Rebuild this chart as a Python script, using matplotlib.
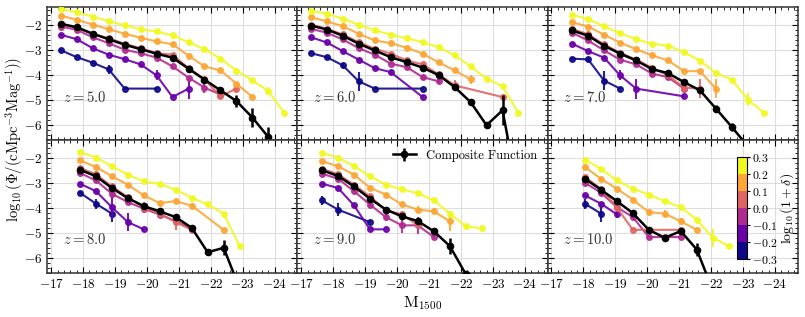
import numpy as np
import matplotlib
matplotlib.use('Agg')
import matplotlib.pyplot as plt
from matplotlib.colors import ListedColormap, BoundaryNorm
from matplotlib.cm import ScalarMappable

plt.rcParams['font.family'] = 'serif'
plt.rcParams['font.serif'] = ['cmr10']
plt.rcParams['mathtext.fontset'] = 'cm'
plt.rcParams['axes.formatter.use_mathtext'] = True
plt.rcParams['axes.unicode_minus'] = True

# overdensity bins (log10(1+delta)) -> one colour each
delta_bins = [-0.25, -0.15, -0.05, 0.05, 0.15, 0.25]
delta_edges = [-0.3, -0.2, -0.1, 0.0, 0.1, 0.2, 0.3]
redshifts = [5.0, 6.0, 7.0, 8.0, 9.0, 10.0]

# ---- z = 5 ----
mag_z5 = [-17.3, -17.8, -18.3, -18.8, -19.3, -19.8, -20.3, -20.8, -21.3, -21.8, -22.3, -22.8, -23.3, -23.8, -24.3]
lf_z5 = [
    [-3.01, -3.29, -3.51, -3.78, -4.55, None, -4.55],
    [-2.39, -2.57, -2.93, -3.19, -3.37, -3.58, -4.02, -4.89, -4.55],
    [-2.06, -2.19, -2.49, -2.73, -2.99, -3.13, -3.31, -3.66, -4.11, -4.51, -4.79],
    [-1.98, -2.11, -2.35, -2.53, -2.75, -2.93, -3.13, -3.19, -3.73, -4.18, -4.86, -4.55],
    [-1.62, -1.79, -1.98, -2.17, -2.35, -2.51, -2.66, -2.77, -3.23, -3.66, -3.82, -4.35, -4.89],
    [-1.35, -1.49, -1.66, -1.85, -2.01, -2.17, -2.26, -2.42, -2.69, -2.97, -3.35, -3.83, -4.22, -4.65, -5.53],
]
err_z5 = [
    [0, 0, 0.06, 0.18, 0, 0, 0],
    [0, 0, 0, 0, 0, 0, 0.2, 0, 0.4],
    [0, 0, 0, 0, 0, 0, 0, 0, 0, 0.23, 0],
    [0, 0, 0, 0, 0, 0, 0, 0, 0, 0, 0.08, 0.13],
    [0, 0, 0, 0, 0, 0, 0, 0, 0, 0, 0, 0, 0],
    [0, 0, 0, 0, 0, 0, 0, 0, 0, 0, 0, 0, 0, 0.15, 0],
]
comp_z5 = [-1.95, -2.09, -2.35, -2.57, -2.79, -2.97, -3.15, -3.31, -3.75, -4.19, -4.62, -5.05, -5.71, -6.50]
comp_err_z5 = [0, 0, 0, 0, 0, 0, 0, 0, 0, 0, 0.05, 0.25, 0.4, 0.4]

# ---- z = 6 ----
mag_z6 = [-17.3, -17.8, -18.3, -18.8, -19.3, -19.8, -20.3, -20.8, -21.3, -21.8, -22.3, -22.8, -23.3, -23.8]
lf_z6 = [
    [-3.13, -3.29, -3.62, -4.26, -4.55, None, None, -4.55],
    [-2.49, -2.70, -3.05, -3.39, -3.73, -3.89, None, -4.89],
    [-2.15, -2.31, -2.58, -2.93, -3.19, -3.55, -3.69, -4.09, -4.26],
    [-1.98, -2.15, -2.38, -2.69, -2.95, -3.15, -3.42, -3.58, -3.98, -4.42, None, None, -4.89],
    [-1.69, -1.85, -2.05, -2.35, -2.62, -2.73, -2.91, -3.15, -3.50, -3.82, -4.18],
    [-1.42, -1.55, -1.75, -1.99, -2.21, -2.39, -2.53, -2.69, -2.89, -3.22, -3.66, -4.15, -4.46, -5.53],
]
err_z6 = [
    [0, 0, 0.1, 0.38, 0, 0, 0, 0],
    [0, 0, 0, 0, 0, 0.1, 0, 0],
    [0, 0, 0, 0, 0, 0, 0, 0.1, 0.1],
    [0, 0, 0, 0, 0, 0, 0, 0, 0, 0.2, 0, 0, 0],
    [0, 0, 0, 0, 0, 0, 0, 0, 0, 0, 0.17],
    [0, 0, 0, 0, 0, 0, 0, 0, 0, 0, 0, 0, 0, 0],
]
comp_z6 = [-2.02, -2.18, -2.43, -2.75, -3.02, -3.29, -3.49, -3.71, -4.01, -4.49, -5.09, -6.02, -5.42, -8.8]
comp_err_z6 = [0, 0, 0, 0, 0, 0, 0, 0, 0, 0, 0.05, 0.05, 0.6, 0]

# ---- z = 7 ----
mag_z7 = [-17.65, -18.15, -18.65, -19.15, -19.65, -20.15, -20.65, -21.15, -21.65, -22.15, -22.65, -23.15, -23.65]
lf_z7 = [
    [-3.35, -3.38, -4.23, -4.55],
    [-2.75, -3.05, -3.31, -4.02, -4.55, None, None, -4.86],
    [-2.31, -2.62, -3.02, -3.39, -3.58, -3.95, -4.09, -4.55],
    [-2.15, -2.38, -2.78, -3.11, -3.39, -3.71, -4.02, -4.51, -4.55],
    [-1.89, -2.06, -2.39, -2.71, -2.97, -3.22, -3.42, -3.85, -3.85, -4.55],
    [-1.58, -1.77, -2.05, -2.33, -2.57, -2.75, -2.83, -3.09, -3.43, -3.93, -4.19, -4.99, -5.51],
]
err_z7 = [
    [0, 0, 0.38, 0],
    [0, 0, 0, 0.2, 0.4, 0, 0, 0],
    [0, 0, 0, 0, 0, 0, 0.12, 0],
    [0, 0, 0, 0, 0, 0, 0, 0.15, 0.37],
    [0, 0, 0, 0, 0, 0, 0, 0, 0, 0.37],
    [0, 0, 0, 0, 0, 0, 0, 0, 0, 0, 0, 0.27, 0],
]
comp_z7 = [-2.22, -2.43, -2.83, -3.15, -3.42, -3.77, -3.93, -4.29, -4.62, -5.35, -6.09, -6.87]
comp_err_z7 = [0, 0, 0, 0, 0, 0, 0, 0, 0, 0.15, 0.15, 0]

# ---- z = 8 ----
mag_z8 = [-17.9, -18.4, -18.9, -19.4, -19.9, -20.4, -20.9, -21.4, -21.9, -22.4, -22.9]
lf_z8 = [
    [-3.39, -3.83, -4.23],
    [-3.03, -3.33, -3.97, -4.57, -4.86],
    [-2.60, -2.90, -3.43, -3.77, -4.03, -4.27, -4.53, -4.84],
    [-2.39, -2.65, -3.14, -3.57, -3.99, -4.23, -4.57, -4.88],
    [-2.09, -2.36, -2.73, -3.07, -3.50, -3.81, -3.73, -3.91, None, -4.88],
    [-1.76, -1.98, -2.33, -2.67, -2.94, -3.04, -3.27, -3.59, -3.86, -4.23, -5.53],
]
err_z8 = [
    [0, 0.2, 0.33],
    [0, 0, 0.47, 0.37, 0],
    [0, 0, 0, 0, 0, 0.12, 0, 0],
    [0, 0, 0, 0, 0.23, 0, 0.33, 0],
    [0, 0, 0, 0, 0, 0.1, 0, 0.1, 0, 0],
    [0, 0, 0, 0, 0, 0, 0, 0, 0, 0, 0],
]
comp_z8 = [-2.47, -2.73, -3.20, -3.61, -3.93, -4.14, -4.37, -4.80, -5.78, -5.60, -7.23]
comp_err_z8 = [0, 0, 0, 0, 0, 0, 0, 0, 0, 0.3, 0]

# ---- z = 9 ----
mag_z9 = [-17.65, -18.15, -18.65, -19.15, -19.65, -20.15, -20.65, -21.15, -21.65, -22.15, -22.65]
lf_z9 = [
    [-3.70, -4.07, None, -4.57],
    [-3.03, -3.20, -3.90, -4.86, -4.86],
    [-2.63, -2.83, -3.33, -3.87, -4.37, -4.70, -4.70, -5.17],
    [-2.43, -2.65, -3.07, -3.54, -4.09, -4.26, -4.70],
    [-2.13, -2.33, -2.67, -3.19, -3.47, -3.86, -4.07, -4.14, -4.54],
    [-1.80, -1.98, -2.32, -2.73, -3.07, -3.26, -3.41, -3.70, -4.23, -4.74, -4.82],
]
err_z9 = [
    [0.17, 0.27, 0, 0],
    [0, 0, 0, 0, 0],
    [0, 0, 0, 0, 0.17, 0.3, 0.33, 0],
    [0, 0, 0, 0, 0, 0, 0],
    [0, 0, 0, 0, 0, 0, 0.15, 0.1, 0.4],
    [0, 0, 0, 0, 0, 0, 0, 0, 0, 0.1, 0.1],
]
comp_z9 = [-2.49, -2.72, -3.14, -3.63, -4.07, -4.34, -4.53, -4.94, -5.53, -6.66]
comp_err_z9 = [0, 0, 0, 0, 0, 0, 0, 0, 0.33, 0]

# ---- z = 10 ----
mag_z10 = [-18.05, -18.55, -19.05, -19.55, -20.05, -20.55, -21.05, -21.55, -22.05, -22.55]
lf_z10 = [
    [-3.83, -4.23],
    [-3.50, -3.83, -4.26],
    [-2.99, -3.39, -3.97, -4.37, -5.17, -5.17, -5.17],
    [-2.76, -3.23, -3.99, -4.88, None, None, -4.88],
    [-2.36, -2.83, -3.23, -3.67, -4.17, -4.23, -4.54, -4.88],
    [-2.06, -2.43, -2.90, -3.23, -3.47, -3.73, -3.97, -4.47, -5.20, -5.53],
]
err_z10 = [
    [0.2, 0.33],
    [0, 0, 0.15],
    [0, 0, 0, 0, 0, 0, 0],
    [0, 0, 0, 0, 0, 0, 0],
    [0, 0, 0, 0, 0.12, 0.15, 0.12, 0],
    [0, 0, 0, 0, 0, 0, 0, 0, 0.37, 0],
]
comp_z10 = [-2.83, -3.27, -3.73, -4.21, -4.88, -5.20, -4.93, -5.67, -7.29]
comp_err_z10 = [0, 0, 0, 0, 0, 0, 0.05, 0.27, 0]

mags = [mag_z5, mag_z6, mag_z7, mag_z8, mag_z9, mag_z10]
lfs = [lf_z5, lf_z6, lf_z7, lf_z8, lf_z9, lf_z10]
errs = [err_z5, err_z6, err_z7, err_z8, err_z9, err_z10]
comps = [comp_z5, comp_z6, comp_z7, comp_z8, comp_z9, comp_z10]
comp_errs = [comp_err_z5, comp_err_z6, comp_err_z7, comp_err_z8, comp_err_z9, comp_err_z10]

cmap = ListedColormap(plt.cm.plasma(np.linspace(0, 1, 6)))
norm = BoundaryNorm(delta_edges, cmap.N)

fig, axes = plt.subplots(2, 3, figsize=(8.05, 3.17), dpi=100, sharex=True, sharey=True)
fig.subplots_adjust(left=0.0588, right=0.9909, top=0.9789, bottom=0.1397, wspace=0, hspace=0)


def drop_missing(x, y, e):
    keep = [i for i in range(len(y)) if y[i] is not None]
    return [x[i] for i in keep], [y[i] for i in keep], [e[i] for i in keep]


for k, ax in enumerate(axes.flat):
    mag = mags[k]
    for j, d in enumerate(delta_bins):
        x, y, e = drop_missing(mag, lfs[k][j], errs[k][j])
        ax.errorbar(x, y, yerr=e, color=cmap(norm(d)), marker='o', ms=4, lw=1.5,
                    elinewidth=1.5, capsize=0, alpha=0.9, zorder=2 + j * 0.1)
    x, y, e = drop_missing(mag, comps[k], comp_errs[k])
    ax.errorbar(x, y, yerr=e, color='black', marker='o', ms=4.5, lw=1.8,
                elinewidth=1.8, capsize=0, zorder=5, label='Composite Function')

    ax.text(0.062, 0.317 if k < 3 else 0.25, r'$z = %.1f$' % redshifts[k],
            transform=ax.transAxes, fontsize=10.5, color='#333333', va='center')

    ax.grid(True, color='#dddddd', lw=0.8)
    ax.set_axisbelow(True)
    ax.minorticks_on()
    ax.tick_params(which='both', direction='in', top=True, right=True, labelsize=9.5)
    ax.tick_params(which='major', length=4)
    ax.tick_params(which='minor', length=2)
    for s in ax.spines.values():
        s.set_linewidth(1.1)
        s.set_color('#333333')

axes[0, 0].set_xlim(-16.88, -24.71)
axes[0, 0].set_ylim(-6.6, -1.265)
axes[0, 0].set_xticks([-17, -18, -19, -20, -21, -22, -23, -24])
axes[0, 0].set_yticks([-2, -3, -4, -5, -6])

axes[1, 1].legend(loc='upper right', frameon=False, fontsize=9, handlelength=1.9,
                  borderaxespad=0.4)

cax = axes[1, 2].inset_axes([0.757, 0.103, 0.04, 0.764])
cb = fig.colorbar(ScalarMappable(norm=norm, cmap=cmap), cax=cax, ticks=delta_edges)
cb.ax.tick_params(direction='out', length=2.5, pad=1.5, labelsize=8.5, which='both')
cb.ax.minorticks_off()
cax.text(5.05, 0.5, r'$\log_{10}(1+\delta)$', transform=cax.transAxes, rotation=90,
         ha='center', va='center', fontsize=10)

fig.text(0.018, 0.559, r'$\log_{10}(\Phi/(\mathrm{cMpc}^{-3}\mathrm{Mag}^{-1}))$',
         rotation=90, va='center', ha='center', fontsize=10.5)
fig.text(0.525, 0.044, r'$\mathrm{M}_{1500}$', va='center', ha='center', fontsize=11.5)

fig.savefig('out.png', dpi=100)
